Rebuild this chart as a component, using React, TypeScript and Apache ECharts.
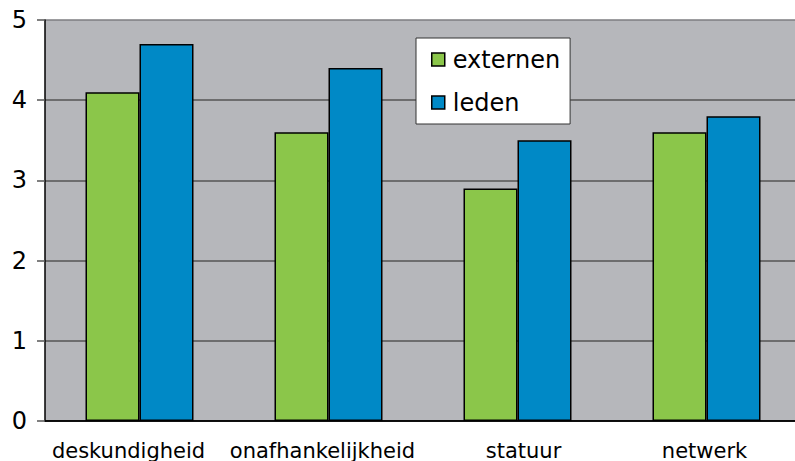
import React, { useEffect, useRef } from "react";
import * as echarts from "echarts";

const categories = ["deskundigheid", "onafhankelijkheid", "statuur", "netwerk"];
const externen = [4.1, 3.6, 2.9, 3.6];
const leden = [4.7, 4.4, 3.5, 3.8];
const seriesNames = ["externen", "leden"];

// layout only: horizontal nudge of each category label (px)
const labelShift = [-11, -6, 6, -2];

export default function App() {
  const ref = useRef<HTMLDivElement>(null);
  useEffect(() => {
    if (!ref.current) return;
    const chart = echarts.init(ref.current, null, { renderer: "svg" });
    const font = "'DejaVu Sans', Verdana, sans-serif";
    const catData = categories.map((c, i) => {
      const s = labelShift[i];
      return {
        value: c,
        textStyle: { padding: s < 0 ? [0, -2 * s, 0, 0] : [0, 0, 0, 2 * s] },
      };
    });
    chart.setOption({
      animation: false,
      backgroundColor: "#ffffff",
      textStyle: { fontFamily: font },
      grid: {
        left: 45,
        right: 0,
        top: 20,
        bottom: 40,
        show: true,
        backgroundColor: "#b6b7bb",
        borderWidth: 0,
      },
      legend: {
        orient: "vertical",
        left: 416,
        top: 38,
        backgroundColor: "#ffffff",
        borderColor: "#333333",
        borderWidth: 1,
        padding: [8, 10, 8, 15],
        itemGap: 16,
        itemWidth: 13,
        itemHeight: 13,
        icon: "rect",
        itemStyle: { borderColor: "#000", borderWidth: 1.5 },
        textStyle: { fontSize: 24, color: "#000", lineHeight: 27, fontFamily: font, padding: [0, 0, 0, 3] },
        data: seriesNames,
      },
      xAxis: {
        type: "category",
        data: catData,
        axisLine: { show: true, lineStyle: { color: "#000", width: 1.5 } },
        axisTick: { show: false },
        axisLabel: { color: "#000", fontSize: 21, margin: 19, interval: 0, fontFamily: font },
      },
      yAxis: {
        type: "value",
        min: 0,
        max: 5,
        interval: 1,
        axisLine: { show: true, lineStyle: { color: "#000", width: 1.5 } },
        axisTick: { show: true, length: 8, lineStyle: { color: "#555", width: 1.5 } },
        axisLabel: { color: "#000", fontSize: 24, margin: 18, fontFamily: font },
        splitLine: {
          show: true,
          lineStyle: { color: ["#000", "#555", "#555", "#555", "#555", "#7d7d80"], width: 1.5 },
        },
      },
      series: [
        {
          name: seriesNames[0],
          type: "bar",
          data: externen,
          barWidth: 54,
          barGap: "0%",
          itemStyle: { color: "#8bc64a", borderColor: "#000", borderWidth: 1.5 },
        },
        {
          name: seriesNames[1],
          type: "bar",
          data: leden,
          barWidth: 54,
          itemStyle: { color: "#0089c6", borderColor: "#000", borderWidth: 1.5 },
        },
      ],
    });
    return () => chart.dispose();
  }, []);
  return (
    <div style={{ position: "fixed", left: 0, top: 0, width: 795, height: 461, overflow: "hidden" }}>
      <div ref={ref} style={{ position: "absolute", left: 0, top: 0, width: 801, height: 461 }} />
    </div>
  );
}
